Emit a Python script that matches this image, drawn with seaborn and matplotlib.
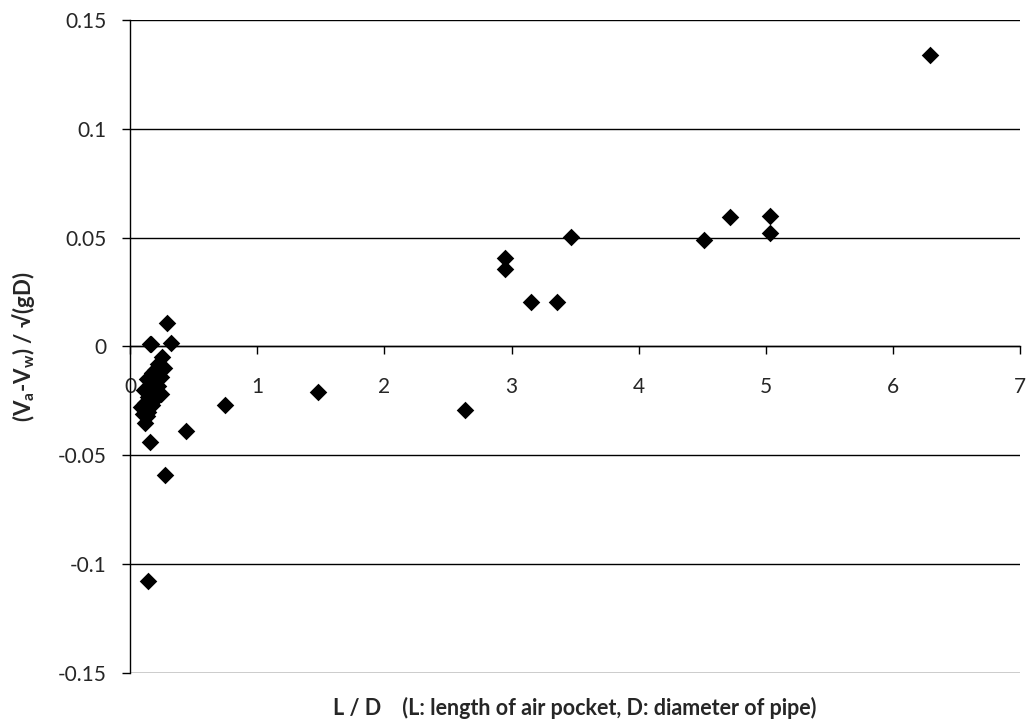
import matplotlib
matplotlib.use("Agg")
import matplotlib.pyplot as plt
import seaborn as sns
import pandas as pd
from matplotlib.ticker import FuncFormatter

# Data
ld = [0.157, 0.165, 0.32, 0.29, 0.746, 1.48, 2.63, 0.437, 0.157, 0.118,
      0.275, 0.144,
      0.25, 0.22, 0.27, 0.20, 0.17, 0.24, 0.13, 0.19, 0.22, 0.15, 0.11,
      0.18, 0.24, 0.14, 0.20, 0.12, 0.17, 0.09, 0.14, 0.10, 0.13,
      2.95, 2.95, 3.155, 3.36, 3.47, 4.51, 4.72, 5.03, 5.03, 6.29]
dv = [0.001, 0.0012, 0.0017, 0.0109, -0.0267, -0.021, -0.029, -0.0386, -0.0437, -0.0353,
      -0.059, -0.1076,
      -0.005, -0.008, -0.010, -0.011, -0.012, -0.014, -0.015, -0.016, -0.018, -0.019, -0.020,
      -0.021, -0.022, -0.023, -0.024, -0.026, -0.027, -0.028, -0.030, -0.031, -0.032,
      0.0405, 0.0354, 0.0205, 0.0205, 0.0503, 0.049, 0.0595, 0.060, 0.052, 0.134]

x_ticks = [0, 1, 2, 3, 4, 5, 6, 7]
y_ticks = [-0.15, -0.1, -0.05, 0, 0.05, 0.1, 0.15]

sns.set_theme(style="white")
plt.rcParams['font.family'] = ['Lato', 'DejaVu Sans']

df = pd.DataFrame({"LD": ld, "dV": dv})

fig = plt.figure(figsize=(10.27, 7.27), dpi=100)
ax = fig.add_axes([0.1266, 0.0743, 0.867, 0.8982])

for yv in y_ticks:
    ax.axhline(yv, color="black", lw=1.0, zorder=1)

sns.scatterplot(data=df, x="LD", y="dV", marker="D", color="black", s=80,
                linewidth=0, ax=ax, zorder=3)

ax.set_xlim(0, 7)
ax.set_ylim(-0.15, 0.15)
ax.set_xticks(x_ticks)
ax.set_yticks(y_ticks)

def yfmt(v, pos):
    s = f"{v:.2f}".rstrip("0").rstrip(".")
    if s in ("-0", "0.", ""):
        s = "0"
    return s

ax.yaxis.set_major_formatter(FuncFormatter(yfmt))
ax.xaxis.set_major_formatter(FuncFormatter(lambda v, p: f"{int(round(v))}"))

ax.spines['top'].set_visible(False)
ax.spines['right'].set_visible(False)
ax.spines['bottom'].set_position(('data', 0))
ax.spines['bottom'].set_color("black")
ax.spines['left'].set_color("black")
ax.spines['bottom'].set_linewidth(1.0)
ax.spines['left'].set_linewidth(1.0)

ax.tick_params(axis="x", direction="out", length=6, width=1, color="black",
               labelsize=15, pad=16, bottom=True)
ax.tick_params(axis="y", direction="out", length=6, width=1, color="black",
               labelsize=15, pad=11, left=True)

ax.set_xlabel("")
ax.set_ylabel(r"(V$_\mathregular{a}$-V$_\mathregular{w}$) / √(gD)", fontsize=16,
              fontweight="bold", labelpad=14)
ax.yaxis.set_label_coords(-0.105, 0.5)
fig.text(0.56, 0.026, "L / D    (L: length of air pocket, D: diameter of pipe)",
         ha="center", va="center", fontsize=15.5, fontweight="bold")

fig.savefig("out.png", dpi=100, facecolor="white")
